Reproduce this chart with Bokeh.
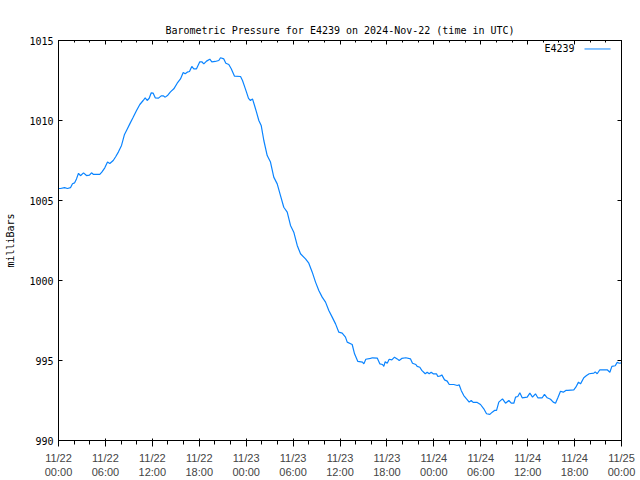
import pandas as pd
from bokeh.plotting import figure
from bokeh.models import (Range1d, FixedTicker, LinearAxis,
                          DatetimeTickFormatter, Label, PolyAnnotation,
                          CustomJSTickFormatter)
from bokeh.embed import file_html
from bokeh.resources import INLINE

# ---- data (hours after 2024-11-22 00:00 UTC, pressure in mbar) ----
hours = [
    0, 0.26, 0.77, 1.15, 1.53, 1.79, 2.05, 2.30, 2.56, 2.81,
    3.20, 3.58, 3.96, 4.22, 4.48, 5.28, 5.54, 5.92, 6.27, 6.56,
    7.00, 7.33, 7.67, 8.06, 8.44, 8.70, 9.12, 9.55, 9.98, 10.40,
    10.83, 11.09, 11.34, 11.60, 11.86, 12.11, 12.37, 12.79, 13.13, 13.39,
    13.65, 13.98, 14.32, 14.75, 15.18, 15.60, 15.95, 16.20, 16.46, 16.75,
    17.05, 17.30, 17.65, 18.07, 18.33, 18.58, 18.93, 19.35, 19.61, 20.04,
    20.50, 20.72, 21.14, 21.40, 21.78, 22.09, 22.51, 23.28, 23.53, 23.79,
    24.04, 24.30, 24.55, 24.81, 25.07, 25.32, 25.62, 25.92, 26.26, 26.69,
    27.11, 27.53, 27.97, 28.39, 28.81, 29.25, 29.67, 30.09, 30.53, 30.95,
    31.59, 32.01, 32.45, 32.87, 33.29, 33.72, 34.15, 34.57, 35.00, 35.43,
    35.85, 36.28, 36.70, 36.92, 37.56, 37.86, 38.28, 38.88, 39.05, 39.30,
    39.90, 40.16, 40.76, 41.09, 41.44, 41.60, 41.78, 42.04, 42.29, 42.63,
    42.97, 43.32, 43.57, 43.90, 44.42, 45.02, 45.27, 45.70, 45.87, 46.21,
    46.46, 46.90, 47.15, 47.41, 47.66, 47.92, 48.34, 48.51, 48.85, 49.02,
    49.37, 49.71, 49.97, 50.55, 50.99, 51.24, 51.50, 51.83, 52.18, 52.52,
    52.78, 53.03, 53.55, 53.97, 54.39, 54.74, 55.16, 55.47, 55.76, 56.02,
    56.31, 56.78, 57.17, 57.59, 57.90, 58.23, 58.45, 58.74, 59.00, 59.30,
    59.94, 60.28, 60.62, 61.00, 61.30, 61.86, 62.15, 62.50, 62.92, 63.27,
    63.56, 63.86, 64.20, 64.55, 64.88, 65.13, 65.90, 66.16, 66.50, 66.76,
    67.18, 67.53, 67.87, 68.46, 68.64, 68.89, 69.23, 70.17, 70.51, 70.77,
    71.20, 71.45, 71.71, 72.00,
]
pressure = [
    1005.75, 1005.75, 1005.8, 1005.75, 1005.8, 1006.05, 1006.1, 1006.35, 1006.7, 1006.55,
    1006.73, 1006.56, 1006.58, 1006.73, 1006.63, 1006.63, 1006.77, 1007.04, 1007.4, 1007.31,
    1007.5, 1007.75, 1008.04, 1008.44, 1009.13, 1009.38, 1009.79, 1010.2, 1010.63, 1011.0,
    1011.25, 1011.42, 1011.25, 1011.39, 1011.73, 1011.71, 1011.42, 1011.4, 1011.54, 1011.54,
    1011.46, 1011.58, 1011.79, 1011.98, 1012.33, 1012.6, 1013.0, 1012.92, 1013.02, 1013.06,
    1013.38, 1013.23, 1013.23, 1013.67, 1013.67, 1013.54, 1013.71, 1013.83, 1013.67, 1013.69,
    1013.75, 1013.92, 1013.85, 1013.58, 1013.5, 1013.23, 1012.77, 1012.75, 1012.5, 1012.13,
    1011.77, 1011.38, 1011.25, 1011.35, 1010.94, 1010.52, 1010.0, 1009.69, 1008.75, 1007.81,
    1007.4, 1006.46, 1006.04, 1005.31, 1004.58, 1004.27, 1003.44, 1003.02, 1002.19, 1001.67,
    1001.35, 1001.08, 1000.52, 999.9, 999.38, 998.96, 998.65, 998.13, 997.71, 997.29,
    996.77, 996.71, 996.46, 996.15, 996.0, 995.42, 994.94, 994.9, 994.79, 995.08,
    995.13, 995.17, 995.15, 994.79, 994.75, 994.63, 994.92, 994.83, 995.08, 995.04,
    995.21, 995.1, 995.0, 995.13, 995.17, 995.1, 994.83, 994.75, 994.63, 994.58,
    994.38, 994.17, 994.27, 994.17, 994.27, 994.17, 994.17, 994.0, 994.04, 994.1,
    993.79, 993.71, 993.5, 993.5, 993.44, 993.48, 993.13, 992.81, 992.6, 992.4,
    992.5, 992.38, 992.38, 992.25, 991.98, 991.67, 991.63, 991.77, 991.88, 991.88,
    992.4, 992.6, 992.33, 992.5, 992.33, 992.33, 992.71, 992.75, 992.98, 992.67,
    992.71, 992.96, 992.71, 992.92, 992.67, 992.67, 992.88, 992.67, 992.58, 992.4,
    992.33, 992.67, 993.08, 993.02, 993.13, 993.13, 993.17, 993.33, 993.65, 993.54,
    993.92, 994.06, 994.17, 994.21, 994.29, 994.17, 994.42, 994.42, 994.27, 994.63,
    994.67, 994.88, 994.83, 994.85,
]
x_major_hours = list(range(0, 73, 6))
x_minor_hours = list(range(0, 73, 2))
y_ticks = [990, 995, 1000, 1005, 1010, 1015]
series_name = "E4239"
title_text = "Barometric Pressure for E4239 on 2024-Nov-22 (time in UTC)"
y_label = "milliBars"

LINE_COLOR = "#0a84ff"
FONT = "DejaVu Sans Mono"
FS = "10px"

start = pd.Timestamp("2024-11-22 00:00")


def ms(h):
    return (start + pd.Timedelta(hours=h)).value / 1e6


times = [ms(h) for h in hours]

p = figure(width=640, height=480, x_axis_type="datetime",
           output_backend="svg", toolbar_location=None,
           x_range=Range1d(ms(0), ms(72)), y_range=Range1d(990, 1015),
           min_border_left=58, min_border_right=19,
           min_border_top=40, min_border_bottom=40,
           title=title_text)

p.line(times, pressure, line_color=LINE_COLOR, line_width=1.2)

xt = FixedTicker(ticks=[ms(h) for h in x_major_hours],
                 minor_ticks=[ms(h) for h in x_minor_hours])
yt = FixedTicker(ticks=y_ticks)
fmt = "%m/%d\n%H:%M"
p.xaxis.formatter = DatetimeTickFormatter(
    microseconds=fmt, milliseconds=fmt, seconds=fmt, minsec=fmt,
    minutes=fmt, hourmin=fmt, hours=fmt, days=fmt, months=fmt, years=fmt,
    strip_leading_zeros=False)
p.xaxis.ticker = xt
p.yaxis.ticker = yt

blank = CustomJSTickFormatter(code="return ''")
top = LinearAxis(ticker=xt, formatter=blank, major_label_standoff=0)
right = LinearAxis(ticker=yt, formatter=blank, major_label_standoff=0)
p.add_layout(top, "above")
p.add_layout(right, "right")

for ax in [p.xaxis[0], p.yaxis[0], top, right]:
    ax.axis_line_color = "black"
    ax.major_tick_line_color = "black"
    ax.minor_tick_line_color = "black"
    ax.major_tick_in = 4
    ax.major_tick_out = 0
    ax.minor_tick_in = 2
    ax.minor_tick_out = 0
    ax.major_label_text_font = FONT
    ax.major_label_text_font_size = FS
    ax.major_label_text_color = "black"
p.yaxis[0].minor_tick_line_color = None
right.minor_tick_line_color = None
p.xaxis[0].major_label_standoff = 8
p.yaxis[0].major_label_standoff = 5

p.yaxis[0].axis_label = y_label
p.yaxis[0].axis_label_text_font = FONT
p.yaxis[0].axis_label_text_font_size = FS
p.yaxis[0].axis_label_text_font_style = "normal"
p.yaxis[0].axis_label_text_color = "black"
p.yaxis[0].axis_label_standoff = 10

p.grid.visible = False
p.outline_line_color = "black"
p.background_fill_color = "white"
p.border_fill_color = "white"

p.title.text_font = FONT
p.title.text_font_size = FS
p.title.text_font_style = "normal"
p.title.text_color = "black"
p.title.align = "center"
p.title.standoff = 10

# legend (gnuplot style: label then sample line), placed in data units
p.add_layout(Label(x=ms(66.0), y=1014.5,
                   text=series_name, text_align="right", text_baseline="middle",
                   text_font=FONT, text_font_size=FS, text_color="black"))
p.add_layout(PolyAnnotation(xs=[ms(67.27), ms(70.6)], ys=[1014.47, 1014.47],
                            line_color=LINE_COLOR, line_alpha=1.0, line_width=1,
                            fill_alpha=0))

open("out.html", "w").write(file_html(p, INLINE))
